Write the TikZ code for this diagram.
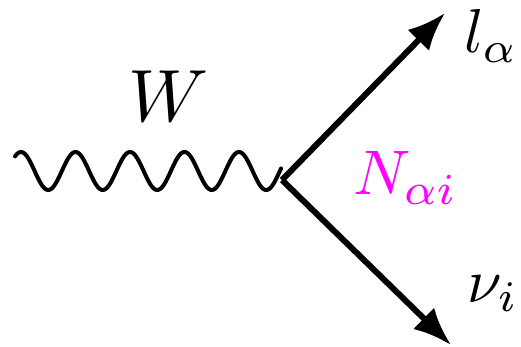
\documentclass[tikz,border=0pt]{standalone}
\usepackage{graphicx}
\usetikzlibrary{arrows.meta}
\definecolor{nmag}{RGB}{255,0,255}
\begin{document}
\begin{tikzpicture}[x=1pt,y=1pt,
  prop/.style={line width=6pt,-{Latex[length=38pt,width=30pt]}},
  lbl/.style={inner sep=0pt,anchor=base west}]
\useasboundingbox (0,0) rectangle (521,346);
\coordinate (v) at (282,166);
\coordinate (lt) at (445,333);
\coordinate (nt) at (451,1);
\draw[line width=4pt,domain=15:281,samples=240,line cap=round]
  plot (\x,{175+19*cos(6.6055*(\x-21))});
\draw[prop] (v) -- (lt);
\draw[prop] (v) -- (nt);
\node[lbl] (w) at (128,224) {\scalebox{7.4}{$W$}};
\node[lbl] (l) at (464,293) {\scalebox{6.2}{$l_\alpha$}};
\node[lbl,text=nmag] (n) at (353,151) {\scalebox{6.3}{$N_{\alpha i}$}};
\node[lbl] (nu) at (467,44) {\scalebox{6.2}{$\nu_i$}};
\end{tikzpicture}
\end{document}
